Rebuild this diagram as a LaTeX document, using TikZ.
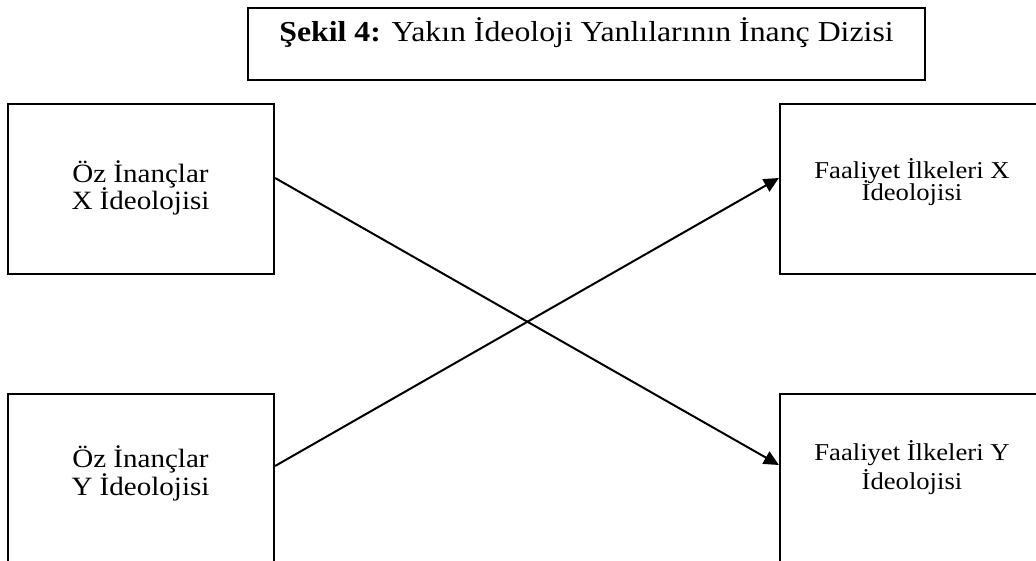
\documentclass[tikz,border=0pt]{standalone}
\usepackage{fontspec}
\setmainfont[FakeStretch=1.1]{Liberation Serif}
\usetikzlibrary{arrows.meta}
\tikzset{
  box/.style={draw=black, line width=2.2pt, rectangle, minimum width=266pt, minimum height=170pt, inner sep=0pt},
  titlebox/.style={draw=black, line width=2.2pt, rectangle, minimum width=677pt, minimum height=72pt, inner sep=0pt},
  lefttxt/.style={anchor=base, inner sep=0pt, font=\fontsize{26.4}{30}\selectfont},
  righttxt/.style={anchor=base, inner sep=0pt, font=\fontsize{24.2}{28}\selectfont},
  titletxt/.style={anchor=base, inner sep=0pt, font=\fontsize{28.9}{32}\selectfont},
  conn/.style={line width=2pt, -{Triangle[length=15pt,width=14pt]}}
}
\begin{document}
\begin{tikzpicture}[x=1pt,y=-1pt]
\useasboundingbox (0,0) rectangle (1036,561);
\clip (0,0) rectangle (1036,561);
% title
\node[titlebox] (title) at (586.5,44) {};
\node[titletxt] (titletext) at (586.5,41.7) {\textbf{Şekil 4:} Yakın İdeoloji Yanlılarının İnanç Dizisi};
% boxes
\node[box] (tl) at (141,189) {};
\node[box] (tr) at (913,189) {};
\node[box] (bl) at (141,479) {};
\node[box] (br) at (913,479) {};
% texts
\node[lefttxt] (tla) at (140.5,182.3) {Öz İnançlar};
\node[lefttxt] (tlb) at (140.5,210) {X İdeolojisi};
\node[lefttxt] (bla) at (140.5,467) {Öz İnançlar};
\node[lefttxt] (blb) at (140.5,495) {Y İdeolojisi};
\node[righttxt] (tra) at (912,178.3) {Faaliyet İlkeleri X};
\node[righttxt] (trb) at (912,201) {İdeolojisi};
\node[righttxt] (bra) at (912,460) {Faaliyet İlkeleri Y};
\node[righttxt] (brb) at (912,489) {İdeolojisi};
% connectors
\draw[conn] ([yshift=11pt]tl.east) -- ([yshift=14pt]br.west);
\draw[conn] ([yshift=13pt]bl.east) -- ([yshift=11pt]tr.west);
\end{tikzpicture}
\end{document}
